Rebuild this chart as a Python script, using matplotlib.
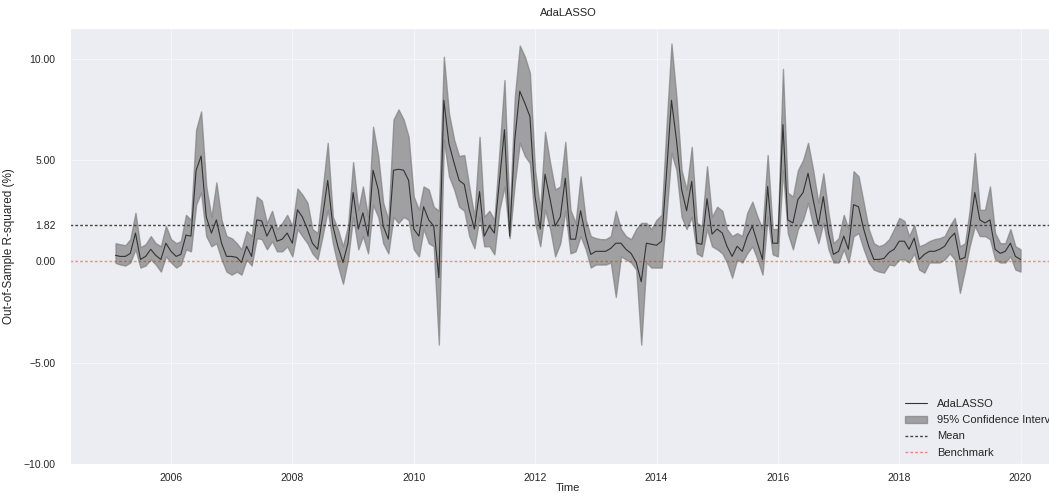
import matplotlib
matplotlib.use("Agg")
import matplotlib.pyplot as plt
import matplotlib.ticker as mticker
import numpy as np
import pandas as pd
import seaborn as sns

# monthly out-of-sample R-squared (%)
dates = pd.date_range("2005-02-01", periods=180, freq="MS")

r2 = [0.3, 0.25, 0.25, 0.4, 1.4, 0.1, 0.25, 0.6, 0.3, 0.1,
      0.9, 0.5, 0.25, 0.35, 1.3, 1.25, 4.5, 5.2, 2.2, 1.4,
      2.05, 0.9, 0.25, 0.25, 0.2, -0.05, 0.75, 0.25, 2.05, 2.0,
      1.25, 1.75, 1.0, 1.1, 1.4, 0.9, 2.55, 2.2, 1.6, 0.9,
      0.6, 2.2, 4.0, 1.75, 0.75, -0.05, 0.9, 3.4, 1.6, 2.4,
      1.25, 4.5, 3.55, 1.75, 1.1, 4.5, 4.55, 4.5, 4.0, 1.6,
      1.25, 2.7, 2.05, 1.75, -0.8, 7.95, 5.8, 4.85, 4.0, 3.8,
      2.55, 1.6, 3.45, 1.25, 1.75, 1.4, 4.0, 6.5, 1.25, 6.0,
      8.4, 7.8, 7.15, 3.2, 1.6, 4.3, 3.05, 1.75, 2.2, 4.1,
      1.1, 1.1, 2.5, 1.25, 0.35, 0.5, 0.5, 0.5, 0.65, 0.9,
      0.9, 0.6, 0.4, -0.05, -1.0, 0.9, 0.85, 0.8, 1.0, 4.2,
      7.95, 6.0, 3.55, 2.5, 3.95, 0.9, 0.85, 3.1, 1.35, 1.6,
      1.4, 0.75, 0.25, 0.75, 0.5, 1.25, 1.75, 0.9, 0.1, 3.7,
      0.9, 0.9, 6.75, 2.05, 1.9, 3.05, 3.4, 4.35, 3.05, 1.8,
      3.2, 1.4, 0.35, 0.5, 1.25, 0.6, 2.8, 2.7, 1.6, 0.75,
      0.1, 0.1, 0.15, 0.45, 0.6, 1.0, 1.0, 0.6, 1.15, 0.1,
      0.35, 0.5, 0.5, 0.6, 0.75, 1.15, 1.4, 0.1, 0.2, 1.6,
      3.4, 2.05, 1.9, 2.05, 0.6, 0.4, 0.5, 0.9, 0.25, 0.1]

ci_upper = [0.9, 0.85, 0.8, 1.1, 2.4, 0.7, 0.85, 1.25, 0.9, 0.75,
            1.75, 1.1, 0.9, 1.0, 2.3, 2.05, 6.5, 7.4, 3.7, 2.2,
            3.9, 2.05, 1.25, 1.15, 0.9, 0.6, 1.5, 1.25, 3.2, 3.0,
            1.9, 2.5, 1.6, 1.9, 2.3, 1.75, 3.6, 3.3, 2.9, 1.6,
            1.4, 3.5, 5.85, 2.2, 1.6, 0.75, 1.75, 4.9, 2.55, 3.7,
            2.2, 6.65, 5.2, 2.9, 2.05, 7.0, 7.5, 7.0, 6.15, 3.2,
            2.55, 3.7, 3.55, 2.7, 2.5, 10.1, 7.3, 6.0, 5.2, 5.25,
            3.7, 2.2, 6.15, 2.2, 2.5, 2.05, 5.5, 8.95, 2.2, 8.1,
            10.65, 10.1, 9.3, 4.5, 2.55, 6.4, 4.85, 3.55, 3.7, 5.9,
            2.55, 1.9, 4.2, 2.05, 1.25, 1.15, 1.1, 1.1, 1.25, 2.5,
            1.6, 1.25, 1.1, 1.6, 1.9, 1.9, 1.6, 2.05, 2.3, 6.5,
            10.75, 8.1, 4.5, 3.55, 5.65, 1.9, 1.75, 4.7, 2.2, 2.7,
            2.5, 1.6, 1.25, 1.4, 1.25, 2.4, 2.95, 2.2, 1.6, 5.25,
            1.6, 1.6, 9.5, 3.4, 3.2, 4.5, 5.0, 5.85, 4.5, 2.9,
            4.35, 2.4, 0.9, 1.15, 2.3, 1.6, 4.45, 4.2, 2.9, 1.6,
            0.9, 0.75, 0.85, 1.1, 1.6, 2.15, 2.0, 1.25, 1.8, 0.75,
            0.85, 1.0, 1.1, 1.15, 1.25, 1.75, 2.15, 0.75, 0.9, 2.55,
            5.35, 2.55, 2.55, 3.7, 1.4, 0.9, 0.9, 1.6, 0.75, 0.6]

ci_lower = [-0.07, -0.15, -0.2, -0.05, 0.6, -0.3, -0.2, 0.1, -0.15, -0.5,
            0.25, -0.05, -0.3, -0.15, 0.6, 0.5, 2.8, 3.4, 1.25, 0.75,
            0.9, 0.1, -0.5, -0.65, -0.5, -0.65, 0.1, -0.2, 1.15, 1.1,
            0.6, 1.0, 0.5, 0.5, 0.75, 0.25, 1.6, 1.25, 0.9, 0.4,
            0.1, 1.25, 2.55, 0.9, -0.2, -1.1, 0.1, 2.2, 0.6, 1.25,
            0.4, 2.8, 2.2, 0.9, 0.4, 2.2, 1.9, 2.2, 2.05, 0.6,
            0.25, 1.6, 0.9, 0.75, -4.1, 6.0, 4.2, 3.55, 2.7, 2.5,
            1.25, 0.65, 2.2, 0.75, 0.75, 0.35, 2.55, 3.7, 1.15, 3.85,
            5.85, 5.2, 4.85, 1.9, 0.75, 2.55, 1.6, 0.25, 0.9, 2.5,
            0.4, 0.5, 1.25, 0.6, -0.3, -0.15, -0.15, -0.15, -0.05, -1.75,
            0.25, 0.1, -0.05, -0.4, -4.1, -0.05, -0.3, -0.3, -0.3, 2.2,
            5.35, 4.5, 2.2, 1.6, 2.2, 0.4, 0.25, 1.6, 0.75, 0.6,
            0.4, -0.05, -0.8, 0.1, -0.05, 0.4, 0.75, 0.1, -0.65, 2.2,
            0.35, 0.25, 4.5, 1.4, 0.6, 1.6, 2.05, 2.9, 1.75, 0.9,
            1.9, 0.6, -0.05, -0.05, 0.6, -0.05, 1.25, 1.4, 0.6, -0.05,
            -0.4, -0.5, -0.55, -0.15, -0.2, 0.1, 0.1, -0.05, 0.4, -0.4,
            -0.55, -0.05, -0.05, -0.05, 0.1, 0.4, 0.1, -1.55, -0.4, 0.75,
            1.75, 1.25, 1.25, 1.1, 0.1, -0.05, -0.05, 0.25, -0.4, -0.5]

mean_r2 = 1.82
benchmark = 0.0
y_ticks = [-10, -5, 0, mean_r2, 5, 10]

sns.set_style("darkgrid", {"axes.facecolor": "#ECECF3", "grid.color": "#F6F6FA"})
plt.rcParams["font.family"] = ["Liberation Sans", "DejaVu Sans"]

fig = plt.figure(figsize=(10.49, 4.97), dpi=100)
ax = fig.add_axes([0.067, 0.066, 0.949, 0.877])

ax.plot(dates, r2, color="#333333", linewidth=0.8, label="AdaLASSO")
ax.fill_between(dates, ci_lower, ci_upper, color="gray", alpha=0.7,
                label="95% Confidence Interval")
ax.axhline(mean_r2, color="#444444", linestyle="--", linewidth=1.0,
           dashes=(2, 1.5), label="Mean")
ax.axhline(benchmark, color="red", linestyle="--", linewidth=1.0,
           dashes=(2, 1.5), alpha=0.45, label="Benchmark")

ax.set_ylim(-10, 11.5)
ax.set_yticks(y_ticks)
ax.yaxis.set_major_formatter(
    mticker.FuncFormatter(lambda v, p: f"{v:.2f}".replace("-", "\u2212")))
ax.tick_params(axis="y", labelsize=7.5, colors=".15", pad=7)
ax.tick_params(axis="x", labelsize=7.5, colors=".15", pad=3)

ax.set_title("AdaLASSO", fontsize=8, pad=9)
ax.set_xlabel("Time", fontsize=8, labelpad=0)
ax.set_ylabel("Out-of-Sample R-squared (%)", fontsize=8.5, labelpad=6)

leg = ax.legend(loc="lower right", fontsize=8, labelspacing=0.55,
                borderaxespad=0.2, handletextpad=0.9,
                frameon=True, framealpha=0.3)
leg.get_frame().set_linewidth(0)

plt.savefig("out.png", dpi=100)
